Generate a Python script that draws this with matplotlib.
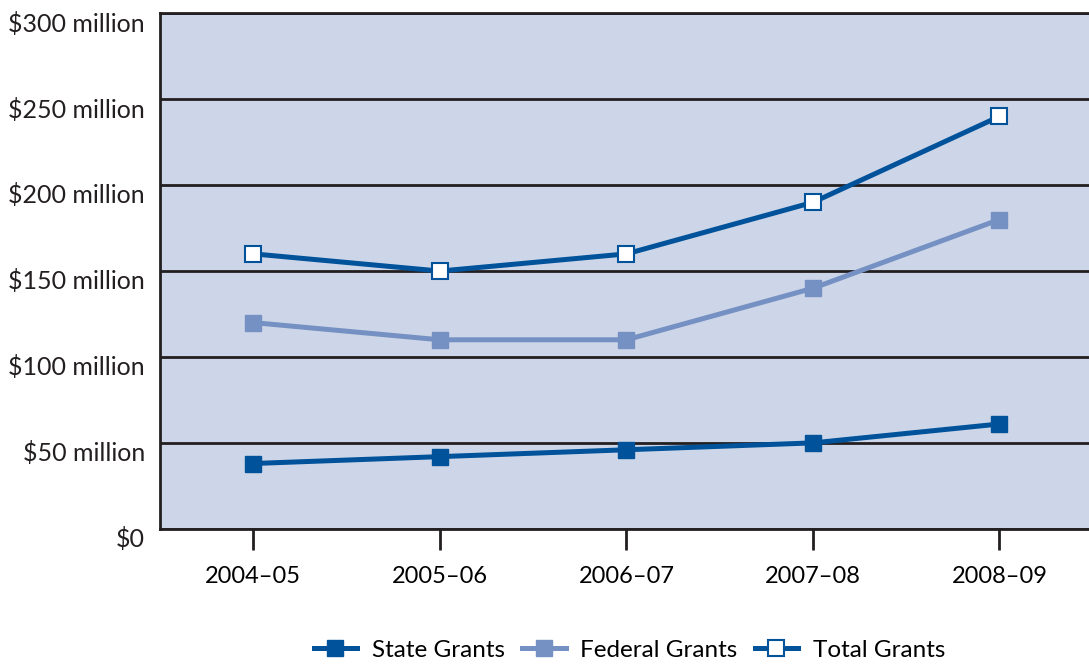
import matplotlib.pyplot as plt
import matplotlib.transforms as mtransforms
from matplotlib.ticker import FuncFormatter

years = ['2004–05', '2005–06', '2006–07', '2007–08', '2008–09']
state_grants = [38, 42, 46, 50, 61]
federal_grants = [120, 110, 110, 140, 180]
total_grants = [160, 150, 160, 190, 240]

dark_blue = '#00529b'
light_blue = '#7590c2'

plt.rcParams['font.family'] = ['Lato', 'DejaVu Sans']

fig = plt.figure(figsize=(10.89, 6.66), dpi=100)
ax = fig.add_axes([0.147, 0.206, 0.853, 0.774])
ax.set_facecolor('#cdd6e8')

x = list(range(len(years)))
ax.plot(x, state_grants, color=dark_blue, lw=3.6, marker='s', ms=11.5,
        label='State Grants')
ax.plot(x, federal_grants, color=light_blue, lw=3.6, marker='s', ms=11.5,
        label='Federal Grants')
ax.plot(x, total_grants, color=dark_blue, lw=3.6, marker='s', ms=11.5,
        mfc='white', mec=dark_blue, mew=1.5, label='Total Grants')

ax.set_ylim(0, 300)
ax.set_xlim(-0.5, 4.48)
ax.set_yticks(range(0, 301, 50))
ax.yaxis.set_major_formatter(FuncFormatter(
    lambda v, p: '$0' if v == 0 else f'${int(v)} million'))
ax.set_xticks(x)
ax.set_xticklabels(years)
ax.grid(axis='y', color='#231f20', lw=2)
ax.set_axisbelow(True)
ax.tick_params(axis='y', length=0, labelsize=18, pad=11, colors='#231f20')
ax.tick_params(axis='x', length=15, width=2, color='#231f20',
               labelsize=17, pad=12)
for s in ['left', 'bottom', 'top']:
    ax.spines[s].set_linewidth(2)
    ax.spines[s].set_color('#231f20')
ax.spines['right'].set_visible(False)

# y labels sit a little below their grid lines
shift = mtransforms.ScaledTranslation(0, -6 / 72, fig.dpi_scale_trans)
for lbl in ax.get_yticklabels():
    lbl.set_transform(lbl.get_transform() + shift)

fig.legend(loc='lower center', bbox_to_anchor=(0.578, -0.025), ncol=3,
           frameon=False, fontsize=17.5, handlelength=1.8, columnspacing=0.7,
           handletextpad=0.6)

plt.savefig('out.png')
